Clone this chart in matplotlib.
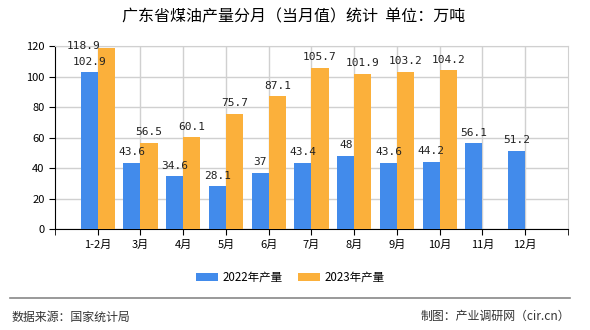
import matplotlib.pyplot as plt
import numpy as np
from matplotlib.lines import Line2D

plt.rcParams['font.family'] = ['Noto Sans CJK SC', 'DejaVu Sans']

months = ['1-2月', '3月', '4月', '5月', '6月', '7月', '8月', '9月', '10月', '11月', '12月']
prod_2022 = [102.9, 43.6, 34.6, 28.1, 37, 43.4, 48, 43.6, 44.2, 56.1, 51.2]
prod_2023 = [118.9, 56.5, 60.1, 75.7, 87.1, 105.7, 101.9, 103.2, 104.2]
labels = ['2022年产量', '2023年产量']

blue = '#428BEB'
orange = '#FBB03B'

fig = plt.figure(figsize=(5.9, 3.3), dpi=100)
ax = fig.add_axes([0.0932, 0.306, 0.8695, 0.5545])

x = np.arange(len(months))
w = 0.4
ax.bar(x[:len(prod_2022)] - w / 2, prod_2022, w, color=blue, label=labels[0], zorder=3)
ax.bar(x[:len(prod_2023)] + w / 2, prod_2023, w, color=orange, label=labels[1], zorder=3)

num_font = dict(fontsize=8, family='DejaVu Sans Mono', color='#222222')
for i, v in enumerate(prod_2022):
    ax.annotate(f'{v:g}', (x[i] - w / 2, v), xytext=(0, 4), textcoords='offset points',
                ha='center', va='bottom', **num_font)
for i, v in enumerate(prod_2023):
    if v > 110:
        # top label pushed left to stay inside the chart
        ax.annotate(f'{v:g}', (x[i] - w / 2 - 0.13, 120), xytext=(0, 0), textcoords='offset points',
                    ha='center', va='center', **num_font)
    else:
        ax.annotate(f'{v:g}', (x[i] + w / 2, v), xytext=(0, 4), textcoords='offset points',
                    ha='center', va='bottom', **num_font)

ax.set_xlim(-1, len(months))
ax.set_ylim(0, 120)
ax.set_yticks(range(0, 121, 20))
ax.set_xticks(x)
ax.set_xticklabels(months, fontsize=8)
ax.tick_params(axis='y', labelsize=8, length=4, direction='out')
ax.tick_params(axis='x', length=4, direction='out')
ax.set_xticks(np.append(x, [-1, len(months)]), minor=True)
ax.tick_params(axis='x', which='minor', length=4)

ax.grid(True, color='#d0d0d0', linewidth=1, zorder=0)
for s in ['top', 'right']:
    ax.spines[s].set_color('#d0d0d0')
for s in ['left', 'bottom']:
    ax.spines[s].set_color('black')

fig.text(0.498, 0.948, '广东省煤油产量分月（当月值）统计  单位：万吨', ha='center', va='center', fontsize=11.5)

fig.legend(loc='center', bbox_to_anchor=(0.492, 0.16), ncol=2, frameon=False, fontsize=8.3,
           handlelength=1.9, handleheight=0.7, handletextpad=0.35, columnspacing=1.4)

fig.add_artist(Line2D([0.017, 0.966], [0.097, 0.097], color='#888888', linewidth=1.2))
fig.text(0.02, 0.04, '数据来源：国家统计局', ha='left', va='center', fontsize=8.6, color='#333333')
fig.text(0.966, 0.04, '制图：产业调研网（cir.cn）', ha='right', va='center', fontsize=8.6, color='#333333')

fig.savefig('out.png', dpi=100)
